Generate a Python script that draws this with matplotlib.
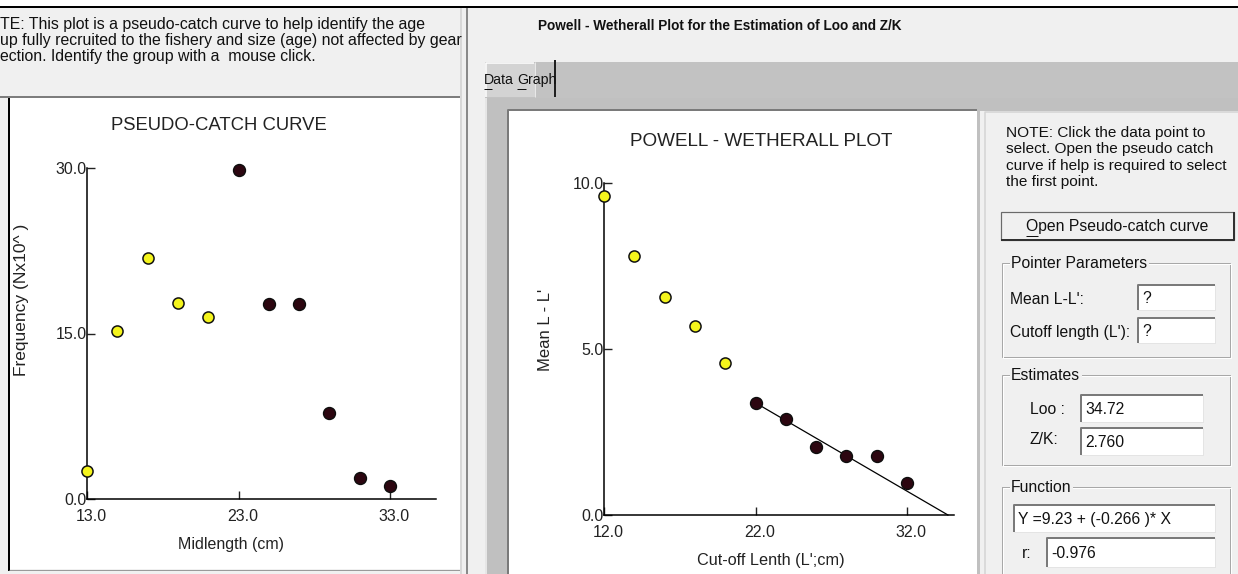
import matplotlib
matplotlib.use("Agg")
import matplotlib.pyplot as plt
from matplotlib.patches import Rectangle
from matplotlib.transforms import ScaledTranslation

# ---------------------------------------------------------------- data
# Pseudo-catch curve: frequency by midlength class
midlength = [13, 15, 17, 19, 21, 23, 25, 27, 29, 31, 33]
frequency = [2.5, 15.2, 21.8, 17.8, 16.5, 29.8, 17.7, 17.7, 7.8, 1.9, 1.2]
catch_xticks = [13.0, 23.0, 33.0]
catch_yticks = [0.0, 15.0, 30.0]

# Powell-Wetherall: mean (L - L') by cut-off length L'
cutoff = [12, 14, 16, 18, 20, 22, 24, 26, 28, 30, 32]
mean_diff = [9.62, 7.80, 6.58, 5.69, 4.57, 3.36, 2.89, 2.06, 1.79, 1.77, 0.97]
pw_xticks = [12.0, 22.0, 32.0]
pw_yticks = [0.0, 5.0, 10.0]

# first selected (fitted) class in both plots
first_selected = 5

# regression results shown in the side panel
intercept = 9.23
slope = -0.266
r_value = -0.976
loo = 34.72
z_over_k = 2.760

# ---------------------------------------------------------------- figure
W, H, DPI = 1238, 574, 100
plt.rcParams["font.family"] = ["Liberation Sans", "DejaVu Sans"]

fig = plt.figure(figsize=(W / DPI, H / DPI), dpi=DPI)
fig.patch.set_facecolor("#f0f0f0")

bg = fig.add_axes([0, 0, 1, 1], zorder=0)
bg.set_xlim(0, W)
bg.set_ylim(H, 0)
bg.axis("off")

PX = 72.0 / DPI  # points per pixel


def box(x0, y0, x1, y1, fc, ec="none", lw=0, z=1):
    bg.add_patch(Rectangle((x0, y0), x1 - x0, y1 - y0, facecolor=fc,
                           edgecolor=ec, linewidth=lw * PX, zorder=z))


def line(xs, ys, color, lw=1, z=2):
    bg.plot(xs, ys, color=color, lw=lw * PX, solid_capstyle="butt", zorder=z)


def label(x, y, s, size=10.5, ha="left", va="center", z=4, **kw):
    bg.text(x, y, s, fontsize=size, ha=ha, va=va, zorder=z, color="#111111", **kw)


def textbox(x0, y0, x1, y1, s):
    box(x0, y0, x1, y1, "white", z=2)
    line([x0, x0, x1], [y1, y0, y0], "#7a7a7a", 2, z=3)
    line([x0, x1, x1], [y1, y1, y0], "#e4e4e4", 1, z=3)
    label(x0 + 4, (y0 + y1) / 2 + 1, s, size=11.3)


def groupbox(x0, y0, x1, y1, title):
    box(x0, y0, x1, y1, "none", ec="#a8a8a8", lw=1, z=2)
    box(x0 + 1, y0 + 1, x1 + 1, y1 + 1, "none", ec="white", lw=1, z=2)
    bg.text(x0 + 9, y0, title, fontsize=11.3, ha="left", va="center", zorder=4,
            color="#111111",
            bbox=dict(facecolor="#f0f0f0", edgecolor="none", pad=1))


# ---- top strip and window frames
box(0, 0, W, 6, "white")
line([0, W], [7, 7], "black", 2)

# left window: note text area and white plot panel
box(0, 8, 466, H, "#f0f0f0")
box(10, 98, 460, 569, "white")
line([0, 462], [97, 97], "#7d7d7d", 2)
line([9, 9], [98, 571], "black", 2)
line([9, 461], [570, 570], "#9a9a9a", 1)
line([461, 461], [8, H], "#d8d8d8", 2)
note_lines = [
    "TE: This plot is a pseudo-catch curve to help identify the age",
    "up fully recruited to the fishery and size (age) not affected by gear",
    "ection. Identify the group with a  mouse click.",
]
for i, s in enumerate(note_lines):
    label(0, 24 + 16 * i, s, size=11.4)

# window separator
line([467, 467], [8, H], "#8a8a8a", 2)

# right window
box(469, 8, W, H, "#f0f0f0")
bg.text(720, 26, "Powell - Wetherall Plot for the Estimation of Loo and Z/K",
        fontsize=9.8, fontweight="bold", ha="center", va="center",
        color="#111111", zorder=4)

# tab strip
box(485, 62, W, 98, "#c2c2c2")
box(485, 63, 535, 97, "#d3d3d3")
line([486, 486, 534], [97, 63, 63], "white", 1.5)
line([555, 555], [60, 97], "#202020", 2)
line([535, 535], [62, 97], "#e8e8e8", 1)
label(484, 80, "Data", size=10.2)
line([484, 492], [89, 89], "#111111", 1)
label(517, 80, "Graph", size=10.2)
line([517, 526], [89, 89], "#111111", 1)

# tab page
box(485, 98, W, H, "#c0c0c0")
line([486, 486], [98, H], "#e6e6e6", 2)
box(509, 111, 977, H, "white")
line([508, 508, 977], [H, 110, 110], "#7a7a7a", 2)

# control panel
box(980, 111, W, H, "#f0f0f0")
line([985, 985, W], [H, 112, 112], "#d4d4d4", 1.5)
right_note = [
    "NOTE: Click the data point to",
    "select. Open the pseudo catch",
    "curve if help is required to select",
    "the first point.",
]
for i, s in enumerate(right_note):
    label(1006, 133 + 16.3 * i, s, size=11.1)

# button
box(1001, 212, 1234, 240, "#f0f0f0", ec="#6a6a6a", lw=1.2, z=2)
line([1001, 1234, 1234], [240, 240, 212], "#303030", 2, z=3)
label(1117, 226, "Open Pseudo-catch curve", size=11.3, ha="center")
line([1026, 1038], [236, 236], "#111111", 1)

# pointer parameters
groupbox(1002, 263, 1230, 357, "Pointer Parameters")
label(1010, 299, "Mean L-L':", size=11.3)
textbox(1138, 285, 1215, 310, "?")
label(1010, 332, "Cutoff length (L'):", size=11.3)
textbox(1138, 318, 1215, 343, "?")

# estimates
groupbox(1002, 375, 1230, 465, "Estimates")
label(1030, 409, "Loo :", size=11.3)
textbox(1081, 395, 1203, 422, f"{loo:.2f}")
label(1030, 440, "Z/K:", size=11.3)
textbox(1081, 428, 1203, 455, f"{z_over_k:.3f}")

# regression function
groupbox(1002, 487, 1230, 590, "Function")
textbox(1014, 505, 1215, 532, f"Y ={intercept:.2f} + ({slope:.3f} )* X")
label(1022, 553, "r:", size=11.3)
textbox(1047, 538, 1215, 567, f"{r_value:.3f}")


# ---------------------------------------------------------------- plots
def add_plot(x0, x1, y_top, y_bottom, xlim, ylim):
    ax = fig.add_axes([x0 / W, 1 - y_bottom / H, (x1 - x0) / W,
                       (y_bottom - y_top) / H], zorder=3)
    ax.patch.set_alpha(0)
    ax.set_xlim(*xlim)
    ax.set_ylim(*ylim)
    for s in ("top", "right"):
        ax.spines[s].set_visible(False)
    for s in ("left", "bottom"):
        ax.spines[s].set_linewidth(1.1)
        ax.spines[s].set_color("black")
    ax.tick_params(direction="in", length=5.5, width=1.0, colors="#222222",
                   labelsize=11.5)
    ax.tick_params(axis="x", pad=7)
    ax.tick_params(axis="y", pad=0)
    return ax


def set_ticks(ax, xt, yt):
    ax.set_xticks(xt, [f"{v:.1f}" for v in xt])
    ax.set_yticks(yt, [f"{v:.1f}" for v in yt])
    # the x labels sit a few pixels right of their tick marks
    nudge = ScaledTranslation(4 / DPI, 0, fig.dpi_scale_trans)
    for t in ax.get_xticklabels():
        t.set_transform(t.get_transform() + nudge)


def place_labels(ax, box_px, xlab_px, ylab_px):
    x0, x1, yt, yb = box_px
    ax.xaxis.label.set_va("center")
    ax.yaxis.label.set_va("center")
    ax.xaxis.set_label_coords((xlab_px[0] - x0) / (x1 - x0),
                              (yb - xlab_px[1]) / (yb - yt))
    ax.yaxis.set_label_coords((ylab_px[0] - x0) / (x1 - x0),
                              (yb - ylab_px[1]) / (yb - yt))


def draw_points(ax, xs, ys):
    ax.plot(xs[:first_selected], ys[:first_selected], "o", ms=8.0,
            mfc="#f4f41c", mec="#111111", mew=1.1, clip_on=False, zorder=5)
    ax.plot(xs[first_selected:], ys[first_selected:], "o", ms=8.6,
            mfc="#2c0610", mec="#0d0d0d", mew=1.0, clip_on=False, zorder=5)


# pseudo-catch curve
catch_box = (87, 435.5, 168, 499)
ax1 = add_plot(*catch_box, xlim=(13, 36.0), ylim=(0, 30))
set_ticks(ax1, catch_xticks, catch_yticks)
draw_points(ax1, midlength, frequency)
ax1.set_xlabel("Midlength (cm)", fontsize=11.5, color="#222222")
ax1.set_ylabel("Frequency (Nx10^ )", fontsize=12.5, color="#222222")
place_labels(ax1, catch_box, (231, 545), (22, 300))
bg.text(219, 125, "PSEUDO-CATCH CURVE", fontsize=13.3, ha="center",
        va="center", color="#222222", zorder=4)

# Powell-Wetherall plot
pw_box = (604, 954, 183, 515)
ax2 = add_plot(*pw_box, xlim=(12, 35.1), ylim=(0, 10))
set_ticks(ax2, pw_xticks, pw_yticks)
draw_points(ax2, cutoff, mean_diff)
x_end = -intercept / slope
x_start = cutoff[first_selected]
ax2.plot([x_start, x_end], [intercept + slope * x_start, intercept + slope * x_end],
         color="black", lw=0.9, clip_on=False, zorder=4)
ax2.set_xlabel("Cut-off Lenth (L';cm)", fontsize=11.7, color="#222222")
ax2.set_ylabel("Mean L - L'", fontsize=12, color="#222222")
place_labels(ax2, pw_box, (771, 560), (545, 330))
bg.text(761, 141, "POWELL - WETHERALL PLOT", fontsize=13.6, ha="center",
        va="center", color="#222222", zorder=4)

fig.savefig("out.png", dpi=DPI, facecolor=fig.get_facecolor())
